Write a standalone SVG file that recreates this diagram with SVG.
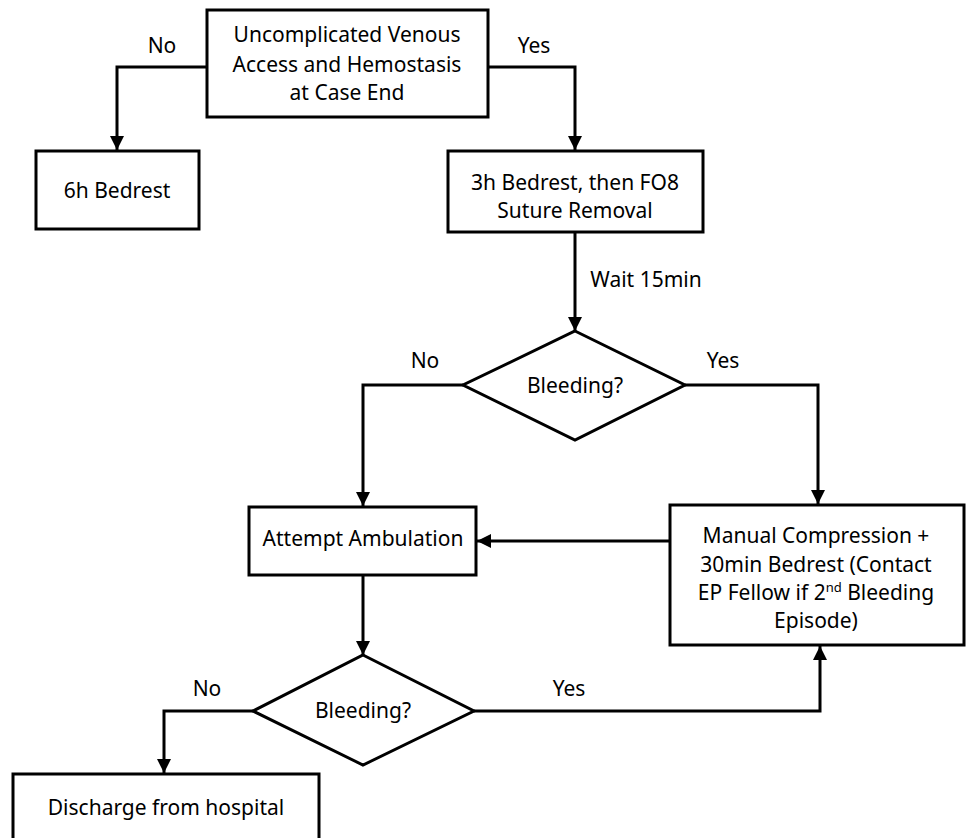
<svg xmlns="http://www.w3.org/2000/svg" width="968" height="838" viewBox="0 0 968 838">
<style>
.box{fill:#fff;stroke:#000;stroke-width:3}
.ln{fill:none;stroke:#000;stroke-width:3}
text{font-family:"Noto Sans","Open Sans",sans-serif;font-size:21px;fill:#000;text-anchor:middle}
</style>
<defs>
<marker id="ah" markerUnits="userSpaceOnUse" markerWidth="14" markerHeight="16" viewBox="0 0 14 16" refX="14" refY="8" orient="auto">
<path d="M0,1 L14,8 L0,15 Z" fill="#000"/>
</marker>
</defs>
<rect width="968" height="838" fill="#fff"/>
<g id="connectors">
<path class="ln" d="M207,67 H117 V150" marker-end="url(#ah)"/>
<path class="ln" d="M488,67 H575 V150" marker-end="url(#ah)"/>
<path class="ln" d="M575,232 V331" marker-end="url(#ah)"/>
<path class="ln" d="M463,385 H363 V506" marker-end="url(#ah)"/>
<path class="ln" d="M685,385 H818 V504" marker-end="url(#ah)"/>
<path class="ln" d="M669,541 H477" marker-end="url(#ah)"/>
<path class="ln" d="M363,575 V655" marker-end="url(#ah)"/>
<path class="ln" d="M474,711 H820 V646" marker-end="url(#ah)"/>
<path class="ln" d="M253,711 H164 V773" marker-end="url(#ah)"/>
<text x="162" y="53">No</text>
<text x="534" y="53">Yes</text>
<text x="646" y="287">Wait 15min</text>
<text x="425" y="368">No</text>
<text x="723" y="368">Yes</text>
<text x="207" y="696">No</text>
<text x="569" y="696">Yes</text>
</g>
<g id="start">
<rect class="box" x="207" y="10" width="281" height="107"/>
<text x="347" y="42">Uncomplicated Venous</text>
<text x="347" y="72">Access and Hemostasis</text>
<text x="347" y="100">at Case End</text>
</g>
<g id="bedrest6">
<rect class="box" x="36" y="151" width="163" height="78"/>
<text x="117" y="198">6h Bedrest</text>
</g>
<g id="bedrest3">
<rect class="box" x="448" y="151" width="255" height="81"/>
<text x="575" y="190">3h Bedrest, then FO8</text>
<text x="575" y="218">Suture Removal</text>
</g>
<g id="bleeding1">
<polygon class="box" points="575,331 685,385 575,440 463,385"/>
<text x="575" y="393">Bleeding?</text>
</g>
<g id="ambulation">
<rect class="box" x="249" y="507" width="227" height="68"/>
<text x="363" y="546">Attempt Ambulation</text>
</g>
<g id="compression">
<rect class="box" x="670" y="505" width="294" height="140"/>
<text x="816" y="543">Manual Compression +</text>
<text x="816" y="572">30min Bedrest (Contact</text>
<text x="816" y="600">EP Fellow if 2<tspan font-size="13" dy="-8">nd</tspan><tspan dy="8"> Bleeding</tspan></text>
<text x="816" y="628">Episode)</text>
</g>
<g id="bleeding2">
<polygon class="box" points="363,655 474,711 363,765 253,711"/>
<text x="363" y="718">Bleeding?</text>
</g>
<g id="discharge">
<rect class="box" x="13" y="774" width="306" height="80"/>
<text x="166" y="815">Discharge from hospital</text>
</g>
</svg>
